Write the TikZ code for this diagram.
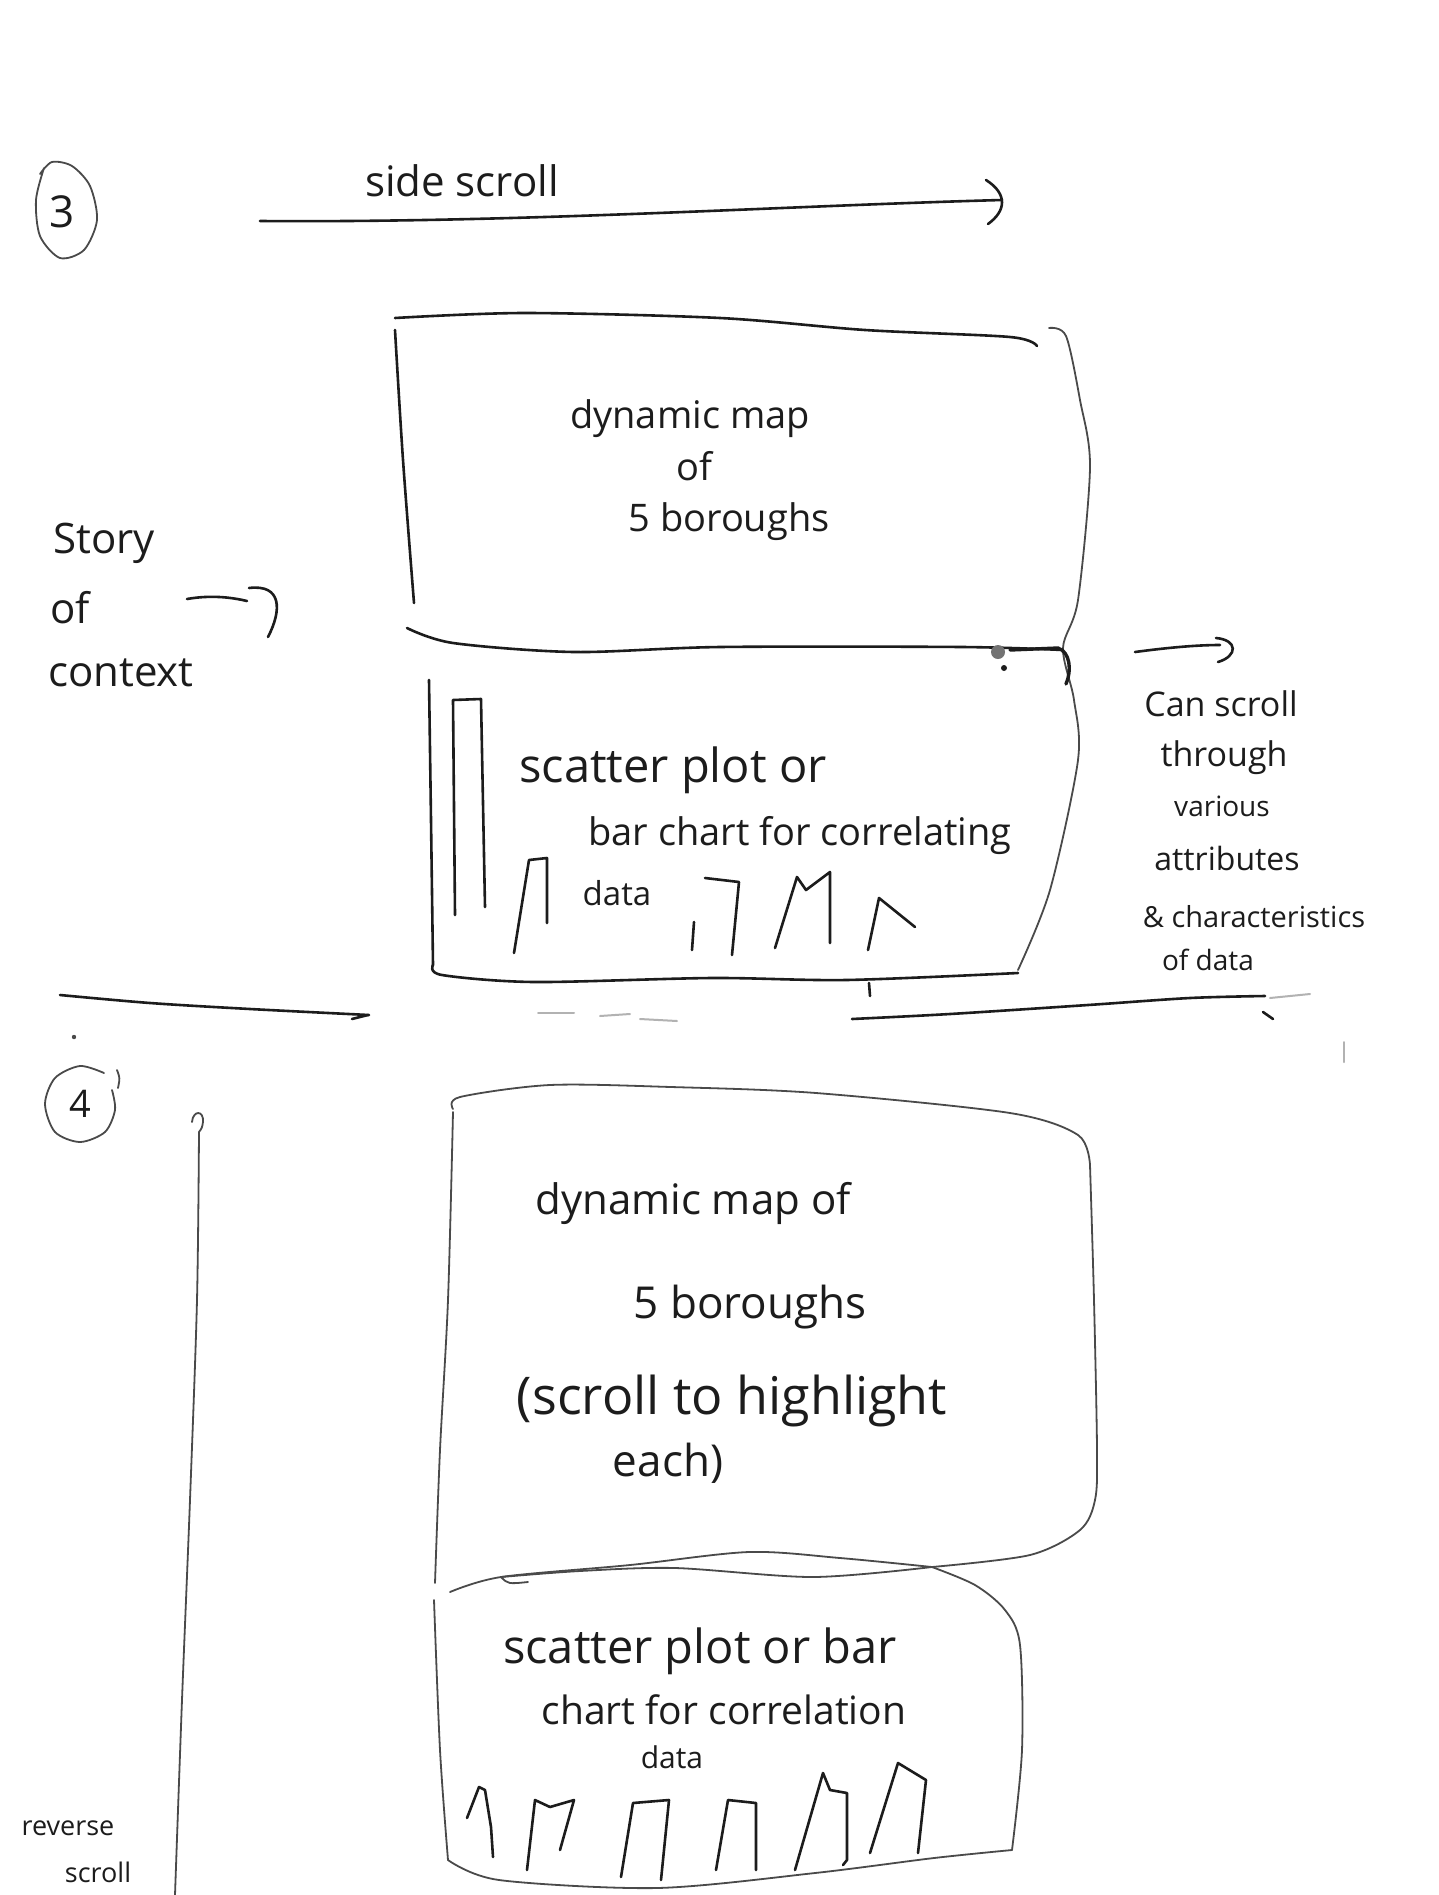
\documentclass[tikz,border=0pt]{standalone}
\usepackage{fontspec}
\setmainfont{Open Sans}
\definecolor{inkc}{HTML}{1C1C1C}
\definecolor{greyink}{HTML}{4A4A4A}
\begin{document}
\begin{tikzpicture}[x=1pt,y=-1pt,
  ink/.style={draw=inkc,line width=2.6pt,line cap=round,line join=round},
  pen/.style={draw=greyink,line width=1.8pt,line cap=round,line join=round},
  faint/.style={draw=black!30,line width=2pt,line cap=round},
  hand/.style={font=\fontsize{#1}{#1}\selectfont,inner sep=0pt,text=inkc},
]
\useasboundingbox[fill=white] (0,0) rectangle (1438,1895);

% ---------- section 3 ----------
\draw[pen] plot[smooth] coordinates {(44,168) (36,200) (40,236) (60,258) (84,250) (97,220) (90,186) (72,166) (52,162) (40,174)};
\node[hand=44] (n3) at (62,212) {3};

\node[hand=42] (side) at (462,181) {side scroll};
\coordinate (sA) at (260,221);
\coordinate (sB) at (1002,200);
\draw[ink] (sA) .. controls (520,223) and (780,206) .. (sB);
\draw[ink] (986,180) .. controls (1008,194) and (1006,211) .. (988,224);

% dynamic map panel
\draw[ink] plot[smooth] coordinates {(395,318) (525,313) (720,318) (865,330) (1010,337) (1037,346)};
\draw[ink] plot[smooth] coordinates {(395,330) (403,460) (414,603)};
\draw[pen] plot[smooth] coordinates {(1049,328) (1066,336) (1080,400) (1090,467) (1078,600) (1063,648) (1074,700) (1078,760) (1050,890) (1018,970)};
\draw[ink] plot[smooth] coordinates {(407,628) (453,643) (574,652) (720,647) (962,647) (1063,650)};
\draw[ink,line width=3.4pt] (1010,650) -- (1058,648) .. controls (1070,652) and (1072,670) .. (1066,684);
\fill[black!55] (998,652) circle (7);
\fill[inkc] (1004,668) circle (3);

\node[hand=38] (map1a) at (690,419) {dynamic map};
\node[hand=38] (map1b) at (694,466) {of};
\node[hand=38] (map1c) at (729,522) {5 boroughs};

% context label and its arrow
\node[hand=42] (st1) at (104,543) {Story};
\node[hand=42] (st2) at (70,608) {of};
\node[hand=42] (st3) at (121,673) {context};
\coordinate (cA) at (187,599);
\coordinate (cB) at (247,601);
\draw[ink] (cA) .. controls (210,595) and (230,597) .. (cB);
\draw[ink] (249,588) .. controls (282,584) and (282,610) .. (268,637);

% correlation panel
\draw[ink] plot[smooth] coordinates {(429,680) (431,820) (433,965)};
\draw[ink] plot[smooth] coordinates {(433,965) (442,975) (534,982) (712,978) (846,980) (1018,973)};
\draw[ink] (869,983) -- (870,996);
\draw[ink] (455,915) -- (453,700) -- (481,699) -- (485,907);
\draw[ink] (514,953) -- (529,860) -- (547,858) -- (547,923);
\draw[ink] (692,950) -- (694,922);
\draw[ink] (705,878) -- (739,882) -- (732,955);
\draw[ink] (775,948) -- (797,877) -- (806,890) -- (830,872) -- (830,943);
\draw[ink] (868,950) -- (879,898) -- (915,927);

\node[hand=47] (sc1) at (673,770) {scatter plot or};
\node[hand=38] (sc2) at (800,836) {bar chart for correlating};
\node[hand=33] (sc3) at (617,893) {data};

% scroll note
\coordinate (rA) at (1135,652);
\coordinate (rB) at (1220,645);
\draw[ink] (rA) .. controls (1165,648) and (1195,645) .. (rB);
\draw[ink] (1216,638) .. controls (1238,640) and (1238,656) .. (1218,662);
\node[hand=34] (r1) at (1221,704) {Can scroll};
\node[hand=34] (r2) at (1224,758) {through};
\node[hand=28] (r3) at (1222,806) {various};
\node[hand=32] (r4) at (1227,858) {attributes};
\node[hand=29] (r5) at (1254,917) {\& characteristics};
\node[hand=28] (r6) at (1208,960) {of data};

% ---------- divider ----------
\draw[ink] plot[smooth] coordinates {(60,995) (150,1003) (250,1009) (369,1015)};
\draw[ink] (352,1019) -- (368,1015);
\draw[faint] (538,1013) -- (574,1013);
\draw[faint] (600,1016) -- (630,1014);
\draw[faint] (640,1019) -- (677,1021);
\draw[ink] plot[smooth] coordinates {(852,1019) (950,1014) (1088,1005) (1190,998) (1265,996)};
\draw[faint] (1270,998) -- (1310,994);
\draw[ink] (1263,1012) -- (1273,1019);
\draw[faint] (1344,1042) -- (1344,1062);

% ---------- section 4 ----------
\draw[pen] plot[smooth] coordinates {(104,1073) (80,1066) (55,1078) (45,1104) (55,1132) (80,1142) (105,1132) (115,1110) (112,1090)};
\draw[pen] (117,1070) .. controls (120,1078) .. (118,1088);
\fill[greyink] (74,1037) circle (2.2);
\node[hand=38] (n4) at (80,1104) {4};

\draw[pen] (192,1122) .. controls (193,1110) and (204,1110) .. (203,1122) .. controls (202,1128) .. (199,1132);
\draw[pen] plot[smooth] coordinates {(199,1132) (197,1300) (190,1500) (182,1700) (175,1895)};

\node[hand=27] (rv1) at (68,1828) {reverse};
\node[hand=27] (rv2) at (98,1872) {scroll};

% big map panel
\draw[pen] plot[smooth] coordinates {(453,1109) (460,1097) (550,1085) (671,1087) (816,1093) (1010,1113) (1078,1135) (1090,1165)};
\draw[pen] plot[smooth] coordinates {(1090,1165) (1094,1300) (1097,1450) (1095,1500) (1080,1530) (1030,1555) (932,1567)};
\draw[pen] plot[smooth] coordinates {(932,1567) (840,1558) (749,1552) (630,1565) (501,1577) (450,1592)};
\draw[pen] plot[smooth] coordinates {(453,1112) (448,1300) (440,1450) (435,1583)};

\node[hand=42] (m2a) at (693,1203) {dynamic map of};
\node[hand=44] (m2b) at (750,1307) {5 boroughs};
\node[hand=52] (m2c) at (732,1401) {(scroll to highlight};
\node[hand=44] (m2d) at (668,1463) {each)};

% correlation panel, section 4
\draw[pen] plot[smooth] coordinates {(501,1577) (580,1571) (675,1568) (813,1577) (932,1567)};
\draw[pen] (501,1577) .. controls (508,1584) .. (528,1582);
\draw[pen] plot[smooth] coordinates {(932,1567) (975,1585) (1005,1610) (1020,1645) (1022,1750) (1012,1850)};
\draw[pen] plot[smooth] coordinates {(1012,1850) (934,1858) (815,1873) (657,1888) (499,1880) (448,1860)};
\draw[pen] plot[smooth] coordinates {(434,1600) (440,1750) (448,1860)};

\node[hand=47] (c2a) at (700,1651) {scatter plot or bar};
\node[hand=39] (c2b) at (724,1710) {chart for correlation};
\node[hand=30] (c2c) at (672,1757) {data};

\draw[ink] (467,1818) -- (479,1787) -- (485,1790) -- (491,1827) -- (493,1857);
\draw[ink] (527,1870) -- (535,1800) -- (550,1807) -- (574,1800) -- (560,1850);
\draw[ink] (621,1877) -- (633,1803) -- (669,1800) -- (661,1880);
\draw[ink] (716,1870) -- (728,1800) -- (756,1803) -- (756,1870);
\draw[ink] (795,1870) -- (823,1773) -- (830,1790) -- (847,1793) -- (847,1860) -- (843,1865);
\draw[ink] (870,1853) -- (898,1763) -- (926,1780) -- (918,1853);
\end{tikzpicture}
\end{document}
